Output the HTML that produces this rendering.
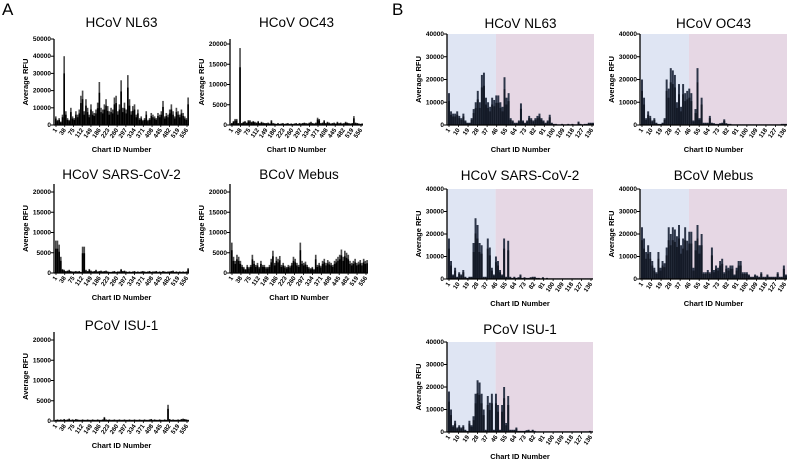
<!DOCTYPE html>
<html><head><meta charset="utf-8">
<style>
html,body{margin:0;padding:0;background:#fff;}
svg{display:block;font-family:"Liberation Sans",Arial,sans-serif;}
</style></head>
<body>
<svg id="fig" width="789" height="461" viewBox="0 0 789 461" xmlns="http://www.w3.org/2000/svg">
<text x="2" y="15" font-size="17">A</text>
<text x="392" y="15" font-size="17">B</text>
</svg>
<script>
// ---- data (values in thousands of RFU) ----
const ticksA = ["1","38","75","112","149","186","223","260","297","334","371","408","445","482","519","556"];
const ticksB = ["1","10","19","28","37","46","55","64","73","82","91","100","109","118","127","136"];
const yTicksNL63A = [0,10000,20000,30000,40000,50000];
const yTicksA = [0,5000,10000,15000,20000];
const yTicksB = [0,10000,20000,30000,40000];

const nl63A = [5,3,4,2,6,40,8,4,3,10,5,4,8,6,9,17,20,8,15,10,6,12,8,7,9,13,25,10,9,12,15,11,8,10,9,16,17,8,12,26,10,13,9,29,15,8,11,12,6,9,4,5,3,4,8,3,4,7,6,5,4,7,6,8,14,5,7,6,9,12,8,5,10,8,6,9,7,5,4,16];
const oc43A = [0.5,1,1.5,1.5,0.5,19,0.5,0.8,1,0.6,1.2,1.2,0.8,1,0.8,0.6,1,0.5,0.8,0.6,0.5,0.5,0.6,0.4,1.2,0.5,0.4,0.3,0.5,0.3,0.4,0.5,0.3,0.4,0.5,0.3,0.4,0.3,0.4,0.5,0.3,0.5,0.4,0.5,0.6,0.5,0.4,0.6,0.8,0.5,0.4,0.6,1.8,1.5,0.5,0.6,1.2,0.5,0.8,0.6,0.4,0.5,0.6,0.4,0.8,0.5,0.6,0.4,0.5,0.8,0.6,0.5,0.4,0.5,2.2,0.6,0.5,0.4,0.3,0.4];
const sarsA = [8,8,7,4,1,0.8,0.5,0.6,0.8,0.5,0.4,0.4,0.5,0.4,0.5,0.3,6.5,6.5,0.8,0.5,1,0.6,0.4,0.5,0.8,0.4,0.5,0.6,0.4,0.5,0.6,0.4,0.3,0.3,0.4,0.5,0.3,0.4,0.4,1,0.5,0.6,0.4,0.3,0.4,0.3,0.4,0.5,0.3,0.4,0.3,0.4,0.5,0.4,0.3,0.4,0.5,0.3,0.4,0.4,0.5,0.3,0.4,0.3,0.5,0.4,0.3,0.4,0.4,0.5,0.6,0.3,0.4,0.3,0.4,0.3,0.4,0.3,0.4,1.2];
const mebusA = [7.5,4,3,4.5,4,3,2,1.5,1,2,1.5,2,4.5,3,2,2.5,1.5,3,2,2,1.5,1.5,2,3.5,5.5,2.5,4,3.5,4.2,2,2.5,1.8,1.5,2,1.8,2.5,4,3.5,2.5,2,7.5,3,2.5,2.8,2,1.5,1.2,1.5,1,4.5,2,2.5,1.8,3,3.5,2.5,3.2,2.8,2.5,2,3,3.5,4,4.5,5.8,4,5.5,5,4.5,3,2.5,3,3.5,2.5,2.8,3.2,2.5,3.5,3,3.2];
const pcovA = [0.3,0.4,0.3,0.4,0.3,0.5,0.3,0.4,0.6,0.3,0.4,0.3,0.5,0.4,0.3,0.3,0.4,0.3,0.3,0.4,0.3,0.3,0.4,0.3,0.3,0.4,0.3,0.3,0.4,1,0.4,0.3,0.4,0.3,0.3,0.4,0.3,0.3,0.4,0.3,0.3,0.4,0.3,0.3,0.4,0.3,0.3,0.4,0.3,0.3,0.4,0.3,0.3,0.4,0.3,0.3,0.4,0.5,0.3,0.4,0.3,0.3,0.4,0.3,0.3,0.4,0.3,4,0.5,0.3,0.4,0.3,0.3,0.4,0.3,0.5,0.6,0.5,0.4,0.3];

const nl63B = [14,6,5,5,6,4,3,5,2,1,1,3,7,10,15,10,22,23,12,10,8,12,11,13,13,10,8,21,12,14,3,2,1,1,2,9.5,2,1,2,4,3,2,3,4,5,3,2,1,2,4.5,1,0.5,0.5,0.3,0.3,0.5,0.3,0.3,0.5,0.3,0.5,0.3,0.3,1.5,0.5,0.3,0.5,0.5,1,1,1];
const oc43B = [20,12,3,6,4,2,3,1,0.5,0.5,1,3,20,16,25,24,22,10,18,8,18,14,15,16,14,2,7,25,3,12,1,1,1,4,1,0.8,0.5,0.5,0.8,1,2.5,0.8,0.5,0.5,0.3,0.3,0.3,0.3,0.3,0.3,0.3,0.3,0.3,0.3,0.3,0.3,0.3,0.3,0.3,0.3,0.3,0.3,0.3,0.3,0.3,0.3,0.3,0.3,0.5,0.5,0.5];
const sarsB = [18,8,2,5,1,3,2,4,1,0.5,1,1,16,27,24,16,15,1,1,18,14,5,2,10,8,4,2,18,1,17,1,0.5,1,0.5,0.8,2,0.5,0.8,0.5,0.5,0.8,1,1,0.5,0.5,0.3,0.8,0.3,0.5,0.3,0.3,0.3,0.3,0.3,0.3,0.3,0.3,0.3,0.3,0.3,0.3,0.3,0.3,0.3,0.3,0.3,0.3,0.3,0.3,0.3,0.3];
const mebusB = [23,18,12,15,12,8,5,3,12,5,8,7,14,23,20,23,22,19,24,15,18,23,17,21,21,5,17,24,15,20,3,3,4,3,14,4,6,5,8,9,3,6,5,6,6,2,5,8,8,3,3,3,2,1,1,2,1.5,1,3,1,1,2,1,1,1,1,3,1,1,6,2];
const pcovB = [18,10,3,5,2,3,2,3,1,0.5,5,3,7,17,23,22,17,10,1,16,13,17,1,17,12,1,12,20,4,16,1,1,1,2,0.5,0.5,0.5,0.5,0.8,1,0.5,1,0.5,0.3,0.3,0.3,0.3,0.3,0.3,0.3,0.3,0.3,0.3,0.3,0.3,0.3,0.3,0.3,0.3,0.3,0.3,0.3,0.3,0.3,0.3,0.3,0.3,0.3,0.3,0.5,0.3];

// ---- drawing ----
const NS = "http://www.w3.org/2000/svg";
const svg = document.getElementById("fig");
function mk(tag, attrs, parent){
  const e = document.createElementNS(NS, tag);
  for (const k in attrs) e.setAttribute(k, attrs[k]);
  (parent||svg).appendChild(e);
  return e;
}
function panel(p){
  const g = mk("g", {});
  
  
  const yScale = v => p.zero - (v / p.refVal) * (p.zero - p.refPix);
  const plotW = p.x1 - p.x0;
  const n = p.data.length;
  const bw = plotW / n;
  const xScale = i => p.x0 + 1 + i * (plotW - 1) / n;
  if (p.type === "B") {
    const split = p.x0 + plotW * 0.333;
    const bg1 = mk("rect", {x:p.x0, y:p.top, width:split-p.x0, height:p.zero-p.top, fill:"#dfe5f3"}, g);
    
    
    const bg2 = mk("rect", {x:split, y:p.top, width:p.x1-split, height:p.zero-p.top, fill:"#e6d7e4"}, g);
    
    
  }
  p.data.forEach((v, i) => {
    const val = v * 1000;
    const y = yScale(val);
    const x = xScale(i);
    const r = mk("rect", {x:x, y:y, width:Math.max(bw*0.95,0.8), height:p.zero-y, fill: p.type==="B" ? "#2c3548" : "#4a4a4a"}, g);
    
    
    const yi = yScale(val * 0.75);
    const r2 = mk("rect", {x:x, y:yi, width:Math.max(bw*0.95,0.8), height:p.zero-yi, fill: p.type==="B" ? "#141a27" : "#000"}, g);
    
    
  });
  // axes
  const ya = mk("line", {x1:p.x0, y1:p.top, x2:p.x0, y2:p.zero, stroke:"#000", "stroke-width":1.3}, g);
  
  
  const xa = mk("line", {x1:p.x0, y1:p.zero, x2:p.x1, y2:p.zero, stroke:"#000", "stroke-width":1.3}, g);
  
  
  p.yTicks.forEach(t => {
    const y = yScale(t);
    mk("line", {x1:p.x0-3, y1:y, x2:p.x0, y2:y, stroke:"#000", "stroke-width":1}, g);
    const tl = mk("text", {x:p.x0-3, y:y+2, "font-size":6.5, "font-weight":"bold", "text-anchor":"end"}, g);
    tl.textContent = t;
    
    
  });
  const nt = p.xTicks.length;
  p.xTicks.forEach((t, i) => {
    const x = p.x0 + 2 + i * (plotW - 4) / (nt - 1);
    mk("line", {x1:x, y1:p.zero, x2:x, y2:p.zero+2, stroke:"#000", "stroke-width":0.8}, g);
    const tl = mk("text", {x:x+1.5, y:p.zero+5, "font-size":6.2, "font-weight":"bold", "text-anchor":"end", transform:`rotate(-55 ${x+1.5} ${p.zero+5})`}, g);
    tl.textContent = t;
    
    
  });
  const ttl = mk("text", {x:(p.x0+p.x1)/2, y:p.titleY, "font-size":13.5, "text-anchor":"middle"}, g);
  ttl.textContent = p.title;
  
  
  const xt = mk("text", {x:(p.x0+p.x1)/2, y:p.zero+27, "font-size":7.5, "font-weight":"bold", "text-anchor":"middle"}, g);
  xt.textContent = "Chart ID Number";
  
  
  const yc = (p.top + p.zero) / 2;
  const yt = mk("text", {x:p.x0-26, y:yc, "font-size":7.5, "font-weight":"bold", "text-anchor":"middle", transform:`rotate(-90 ${p.x0-26} ${yc})`}, g);
  yt.textContent = "Average RFU";
  
  
}
panel({name:"panel-a-nl63", type:"A", title:"HCoV NL63", data:nl63A, xTicks:ticksA, yTicks:yTicksNL63A, x0:54, x1:189, zero:125, refPix:39, refVal:50000, top:39, titleY:27});
panel({name:"panel-a-oc43", type:"A", title:"HCoV OC43", data:oc43A, xTicks:ticksA, yTicks:yTicksA, x0:230, x1:363, zero:125, refPix:44, refVal:20000, top:39, titleY:27});
panel({name:"panel-a-sars", type:"A", title:"HCoV SARS-CoV-2", data:sarsA, xTicks:ticksA, yTicks:yTicksA, x0:54, x1:189, zero:273, refPix:192, refVal:20000, top:184, titleY:179});
panel({name:"panel-a-mebus", type:"A", title:"BCoV Mebus", data:mebusA, xTicks:ticksA, yTicks:yTicksA, x0:230, x1:368, zero:273, refPix:192, refVal:20000, top:184, titleY:179});
panel({name:"panel-a-pcov", type:"A", title:"PCoV ISU-1", data:pcovA, xTicks:ticksA, yTicks:yTicksA, x0:54, x1:189, zero:421, refPix:340, refVal:20000, top:332, titleY:330});
panel({name:"panel-b-nl63", type:"B", title:"HCoV NL63", data:nl63B, xTicks:ticksB, yTicks:yTicksB, x0:447, x1:594, zero:125, refPix:34, refVal:40000, top:34, titleY:28});
panel({name:"panel-b-oc43", type:"B", title:"HCoV OC43", data:oc43B, xTicks:ticksB, yTicks:yTicksB, x0:640, x1:787, zero:125, refPix:34, refVal:40000, top:34, titleY:28});
panel({name:"panel-b-sars", type:"B", title:"HCoV SARS-CoV-2", data:sarsB, xTicks:ticksB, yTicks:yTicksB, x0:447, x1:593, zero:279, refPix:189, refVal:40000, top:189, titleY:180});
panel({name:"panel-b-mebus", type:"B", title:"BCoV Mebus", data:mebusB, xTicks:ticksB, yTicks:yTicksB, x0:640, x1:787, zero:279, refPix:189, refVal:40000, top:189, titleY:180});
panel({name:"panel-b-pcov", type:"B", title:"PCoV ISU-1", data:pcovB, xTicks:ticksB, yTicks:yTicksB, x0:447, x1:593, zero:432, refPix:342, refVal:40000, top:342, titleY:334});
</script>
</body></html>
